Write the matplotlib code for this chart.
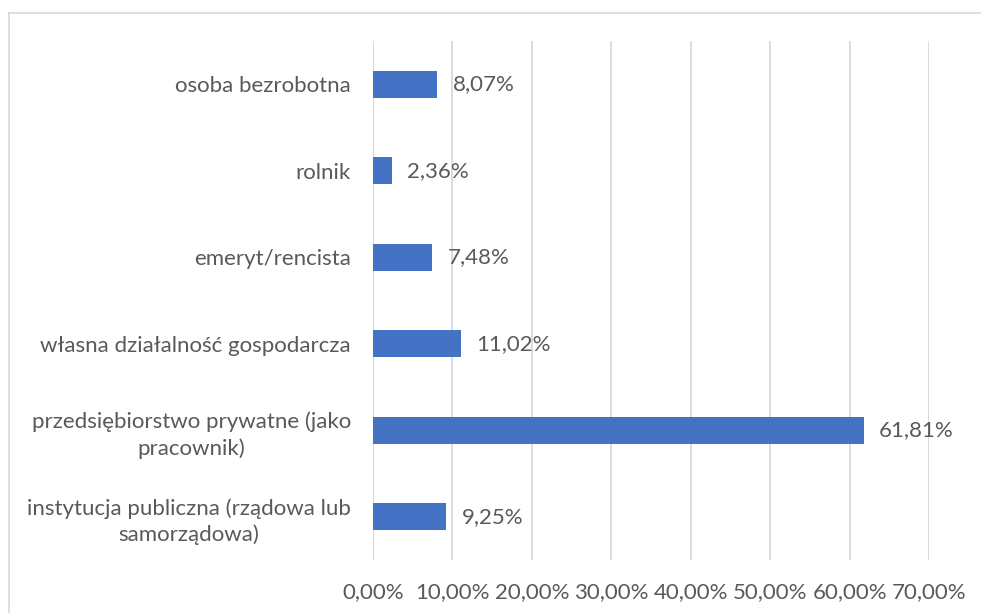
import matplotlib
matplotlib.use("Agg")
import matplotlib.pyplot as plt
from matplotlib.lines import Line2D

categories = [
    "instytucja publiczna (rządowa lub\nsamorządowa)",
    "przedsiębiorstwo prywatne (jako\npracownik)",
    "własna działalność gospodarcza",
    "emeryt/rencista",
    "rolnik",
    "osoba bezrobotna",
]
values = [9.25, 61.81, 11.02, 7.48, 2.36, 8.07]
xticks = [0, 10, 20, 30, 40, 50, 60, 70]

plt.rcParams['font.family'] = ['Lato', 'DejaVu Sans']
txt = '#595959'
fs = 16
fig = plt.figure(figsize=(9.81, 6.13), dpi=100)
ax = fig.add_axes([373/981, 1-560/613, (929-373)/981, (560-41)/613])
y = list(range(len(categories)))
ax.barh(y, values, height=0.31, color='#4472C4', zorder=3)
for yi, v in zip(y, values):
    ax.annotate(f"{v:.2f}%".replace('.', ','), (v, yi), xytext=(11, 0),
                textcoords='offset points', va='center', ha='left',
                fontsize=fs, color=txt)
ax.set_xlim(0, 70)
ax.set_ylim(-0.5, len(categories)-0.5)
ax.set_xticks(xticks)
ax.set_xticklabels([f"{t:.2f}%".replace('.', ',') for t in xticks])
ax.set_yticks(y)
ax.set_yticklabels(categories, multialignment='center', linespacing=1.36)
ax.tick_params(axis='both', length=0, labelsize=fs, colors=txt)
ax.tick_params(axis='x', pad=16)
ax.tick_params(axis='y', pad=16)
ax.grid(axis='x', color='#D9D9D9', linewidth=1.3, zorder=0)
for s in ax.spines.values():
    s.set_visible(False)
ax.axvline(0, color='#D9D9D9', linewidth=1.3, zorder=1)
fig.add_artist(Line2D([8.5/981, 8.5/981], [0, 1-12.5/613], color='#D9D9D9', linewidth=1.2, transform=fig.transFigure))
fig.add_artist(Line2D([8.5/981, 1], [1-12.5/613, 1-12.5/613], color='#D9D9D9', linewidth=1.2, transform=fig.transFigure))
fig.savefig('out.png', dpi=100)
